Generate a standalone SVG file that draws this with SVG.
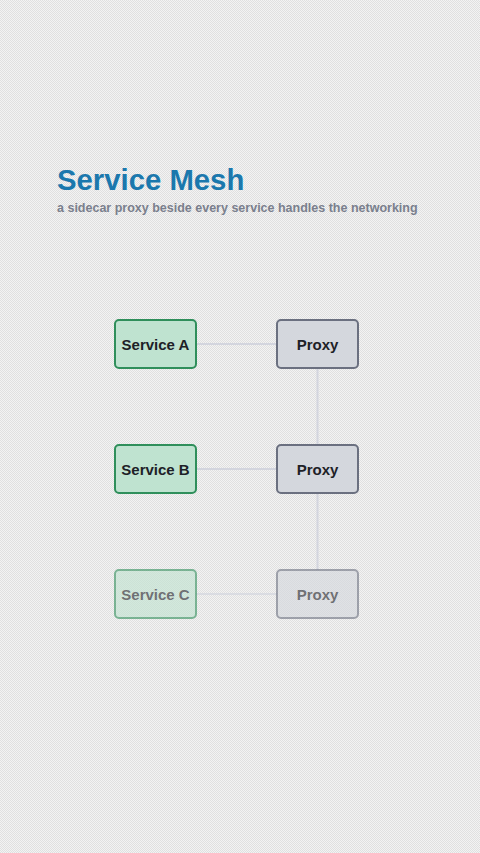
<svg xmlns="http://www.w3.org/2000/svg" width="480" height="853" viewBox="0 0 480 853">
<defs>
<pattern id="bg" width="2" height="2" patternUnits="userSpaceOnUse">
<rect width="2" height="2" fill="#f3f3f3"/>
<rect width="1" height="1" fill="#e0e0e0"/>
<rect x="1" y="1" width="1" height="1" fill="#e0e0e0"/>
</pattern>
<style>
.t{font-family:"Liberation Sans",Arial,sans-serif;font-weight:bold}
.svc{fill:#bfe3d0;stroke:#2f8f5b;stroke-width:2}
.prx{fill:#d4d7dd;stroke:#6b7080;stroke-width:2}
.lbl{font-family:"Liberation Sans",Arial,sans-serif;font-weight:bold;font-size:15px;fill:#1d2127;text-anchor:middle}
.e{stroke:#d3d5de;stroke-width:2;fill:none}
</style>
</defs>
<rect width="480" height="853" fill="url(#bg)"/>
<text class="t" x="57" y="190" font-size="29.3" fill="#1b78ad">Service Mesh</text>
<text class="t" x="57" y="212" font-size="12.5" fill="#7a7f8d">a sidecar proxy beside every service handles the networking</text>
<g id="connectors">
<line class="e" x1="196" y1="344" x2="277" y2="344"/>
<line class="e" x1="196" y1="469" x2="277" y2="469"/>
<line class="e" x1="196" y1="594" x2="277" y2="594" opacity="0.7"/>
<line class="e" x1="317.5" y1="368" x2="317.5" y2="445"/>
<line class="e" x1="317.5" y1="493" x2="317.5" y2="570"/>
</g>
<g id="serviceA"><rect class="svc" x="115" y="320" width="81" height="48" rx="4"/><text class="lbl" x="155.5" y="349.5">Service A</text></g>
<g id="proxyA"><rect class="prx" x="277" y="320" width="81" height="48" rx="4"/><text class="lbl" x="317.5" y="349.5">Proxy</text></g>
<g id="serviceB"><rect class="svc" x="115" y="445" width="81" height="48" rx="4"/><text class="lbl" x="155.5" y="474.5">Service B</text></g>
<g id="proxyB"><rect class="prx" x="277" y="445" width="81" height="48" rx="4"/><text class="lbl" x="317.5" y="474.5">Proxy</text></g>
<g id="serviceC" opacity="0.6"><rect class="svc" x="115" y="570" width="81" height="48" rx="4"/><text class="lbl" x="155.5" y="599.5">Service C</text></g>
<g id="proxyC" opacity="0.6"><rect class="prx" x="277" y="570" width="81" height="48" rx="4"/><text class="lbl" x="317.5" y="599.5">Proxy</text></g>
</svg>
